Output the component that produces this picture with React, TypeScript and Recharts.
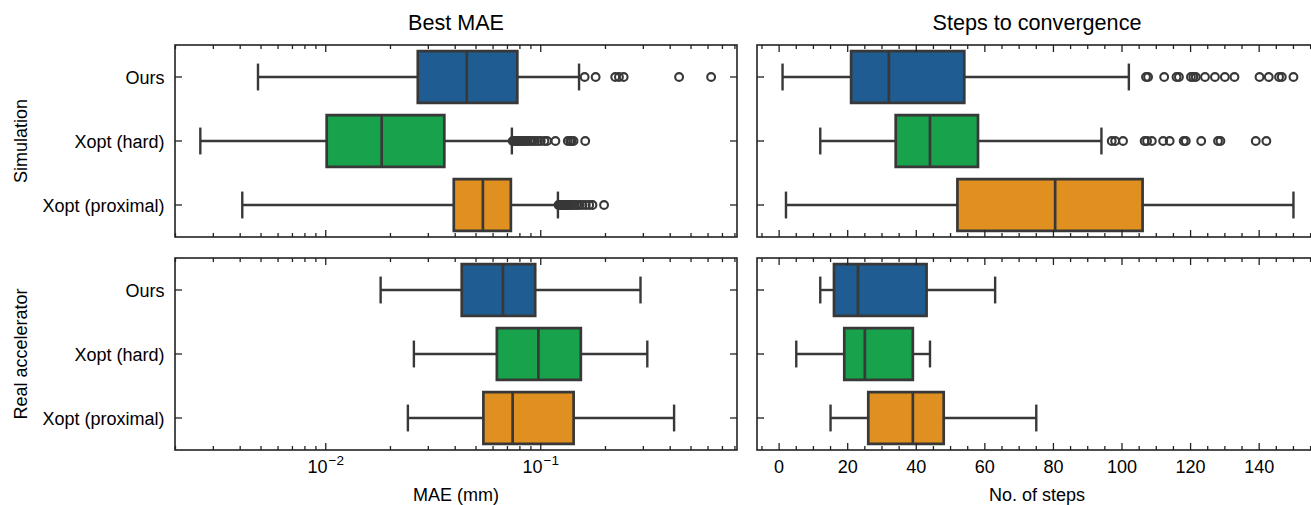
import React from "react";
import { ScatterChart, Scatter, XAxis, YAxis, ReferenceArea, ReferenceLine } from "recharts";

const methods = ["Ours", "Xopt (hard)", "Xopt (proximal)"];
const boxColors = ["#1f5c92", "#17a24b", "#df9020"];

// per method: [low whisker, q1, median, q3, high whisker]
const simMae = [
  [0.00484, 0.0268, 0.0453, 0.0778, 0.1507],
  [0.00261, 0.0101, 0.0182, 0.0356, 0.0734],
  [0.00409, 0.0394, 0.0538, 0.0726, 0.1202],
];
const simMaeFliers = [
  [0.16, 0.18, 0.222, 0.231, 0.243, 0.44, 0.62],
  [0.0741, 0.075, 0.0762, 0.0775, 0.0788, 0.08, 0.0815, 0.083, 0.0848, 0.0868, 0.089, 0.0912, 0.094, 0.097, 0.1, 0.104, 0.107, 0.117, 0.1336, 0.137, 0.139, 0.142, 0.161],
  [0.121, 0.122, 0.123, 0.125, 0.126, 0.128, 0.13, 0.132, 0.134, 0.137, 0.14, 0.143, 0.147, 0.151, 0.156, 0.162, 0.168, 0.174, 0.197],
];
const realMae = [
  [0.018, 0.0429, 0.0667, 0.0942, 0.291],
  [0.0257, 0.0625, 0.0975, 0.1536, 0.313],
  [0.0241, 0.0541, 0.074, 0.1422, 0.417],
];

const simSteps = [
  [1, 21, 32, 54, 102],
  [12, 34, 44, 58, 94],
  [2, 52, 80.5, 106, 150],
];
const simStepsFliers = [
  [107, 107.6, 112.3, 115.9, 116.6, 120.1, 120.8, 121.5, 124.2, 127.1, 130, 132.8, 140.1, 142.8, 145.8, 146.6, 150],
  [97, 98, 100.3, 106.6, 107.3, 108.7, 112, 113.9, 118, 118.6, 123.1, 128, 128.7, 139, 142.1],
  [],
];
const realSteps = [
  [12, 16, 23, 43, 63],
  [5, 19, 25, 39, 44],
  [15, 26, 39, 48, 75],
];

const maeDomain = [0.00199, 0.818];
const maeMajor = [0.01, 0.1];
const maeTicks = [0.002, 0.003, 0.004, 0.005, 0.006, 0.007, 0.008, 0.009, 0.01, 0.02, 0.03, 0.04, 0.05, 0.06, 0.07, 0.08, 0.09, 0.1, 0.2, 0.3, 0.4, 0.5, 0.6, 0.7, 0.8];
const maeLabels = ["\u22122", "\u22121"];

const stepsDomain = [-6.45, 157.45];
const stepsMajor = [0, 20, 40, 60, 80, 100, 120, 140];
const stepsTicks = [-5, 0, 5, 10, 15, 20, 25, 30, 35, 40, 45, 50, 55, 60, 65, 70, 75, 80, 85, 90, 95, 100, 105, 110, 115, 120, 125, 130, 135, 140, 145, 150, 155];

const W = 1330;
const H = 505;
const PW = 562;
const PH = 192;
const EDGE = "#383838";
const AXIS = "#222222";
const FONT = "'Liberation Sans', Arial, Helvetica, sans-serif";
const LW = 2.4;
const BOX_LW = 2.7;

function Panel({ boxes, fliers, domain, log, ticks, majors, top, left, yw, showY, showX, kind }: any) {
  const bottom = top + PH;
  const right = left + PW;
  const flierData = fliers.flatMap((arr: number[], i: number) => arr.map((v) => ({ x: v, y: i })));
  const medianData = boxes.map((b: number[], i: number) => ({ x: b[2], y: i }));

  const XTick = (p: any) => {
    const v = p.payload.value;
    const mi = majors.indexOf(v);
    const len = mi >= 0 ? 7 : 4;
    return (
      <g>
        <line x1={p.x} x2={p.x} y1={bottom} y2={bottom - len} stroke={AXIS} strokeWidth={1.3} />
        <line x1={p.x} x2={p.x} y1={top} y2={top + len} stroke={AXIS} strokeWidth={1.3} />
        {showX && mi >= 0 && (
          kind === "log" ? (
            <text x={p.x} y={bottom + 23} textAnchor="middle" fontSize={18} fontFamily={FONT} fill="#000">
              10<tspan dy={-8} dx={1} fontSize={13.5}>{maeLabels[mi]}</tspan>
            </text>
          ) : (
            <text x={p.x} y={bottom + 23} textAnchor="middle" fontSize={18} fontFamily={FONT} fill="#000">{v}</text>
          )
        )}
      </g>
    );
  };

  const YTick = (p: any) => {
    const i = p.payload.value;
    return (
      <g>
        <line x1={left} x2={left + 7} y1={p.y} y2={p.y} stroke={AXIS} strokeWidth={1.3} />
        <line x1={right} x2={right - 7} y1={p.y} y2={p.y} stroke={AXIS} strokeWidth={1.3} />
        {showY && (
          <text x={left - 10.5} y={p.y + 6.5} textAnchor="end" fontSize={18} fontFamily={FONT} fill="#000">{methods[i]}</text>
        )}
      </g>
    );
  };

  return (
    <div style={{ position: "absolute", left: 0, top: 0 }}>
      <ScatterChart width={W} height={H} margin={{ top, right: W - right, bottom: H - bottom - 1, left: left - yw }}>
        <XAxis type="number" dataKey="x" scale={log ? "log" : "linear"} domain={domain} allowDataOverflow ticks={ticks} interval={0} tick={XTick} tickLine={false} axisLine={false} height={1} tickSize={0} tickMargin={0} />
        <YAxis type="number" dataKey="y" domain={[-0.5, 2.5]} reversed allowDataOverflow ticks={[0, 1, 2]} interval={0} tick={YTick} tickLine={false} axisLine={false} width={yw} tickSize={0} tickMargin={0} />
        {boxes.map((b: number[], i: number) => (
          <ReferenceLine key={"wl" + i} segment={[{ x: b[0], y: i }, { x: b[1], y: i }]} stroke={EDGE} strokeWidth={LW} />
        ))}
        {boxes.map((b: number[], i: number) => (
          <ReferenceLine key={"wh" + i} segment={[{ x: b[3], y: i }, { x: b[4], y: i }]} stroke={EDGE} strokeWidth={LW} />
        ))}
        {boxes.map((b: number[], i: number) => (
          <ReferenceLine key={"cl" + i} segment={[{ x: b[0], y: i - 0.21 }, { x: b[0], y: i + 0.21 }]} stroke={EDGE} strokeWidth={LW} />
        ))}
        {boxes.map((b: number[], i: number) => (
          <ReferenceLine key={"ch" + i} segment={[{ x: b[4], y: i - 0.21 }, { x: b[4], y: i + 0.21 }]} stroke={EDGE} strokeWidth={LW} />
        ))}
        {boxes.map((b: number[], i: number) => (
          <ReferenceArea key={"bx" + i} x1={b[1]} x2={b[3]} y1={i - 0.405} y2={i + 0.405} fill={boxColors[i]} fillOpacity={1} stroke={EDGE} strokeWidth={BOX_LW} />
        ))}
        <Scatter
          data={medianData}
          isAnimationActive={false}
          shape={(p: any) => <line x1={p.cx} x2={p.cx} y1={p.cy - 25.9} y2={p.cy + 25.9} stroke={EDGE} strokeWidth={BOX_LW} />}
        />
        <Scatter
          data={flierData}
          isAnimationActive={false}
          shape={(p: any) => <circle cx={p.cx} cy={p.cy} r={3.9} fill="none" stroke={EDGE} strokeWidth={2.1} />}
        />
      </ScatterChart>
    </div>
  );
}

export default function App() {
  const frames = [
    [175, 45], [757, 45], [175, 258], [757, 258],
  ];
  return (
    <div style={{ position: "absolute", left: 0, top: 0, width: 1311, height: 505, overflow: "hidden", background: "#fff" }}>
      <Panel boxes={simMae} fliers={simMaeFliers} domain={maeDomain} log ticks={maeTicks} majors={maeMajor} top={45} left={175} yw={175} showY showX={false} kind="log" />
      <Panel boxes={realMae} fliers={[[], [], []]} domain={maeDomain} log ticks={maeTicks} majors={maeMajor} top={258} left={175} yw={175} showY showX kind="log" />
      <Panel boxes={simSteps} fliers={simStepsFliers} domain={stepsDomain} log={false} ticks={stepsTicks} majors={stepsMajor} top={45} left={757} yw={12} showY={false} showX={false} kind="lin" />
      <Panel boxes={realSteps} fliers={[[], [], []]} domain={stepsDomain} log={false} ticks={stepsTicks} majors={stepsMajor} top={258} left={757} yw={12} showY={false} showX kind="lin" />
      <svg width={W} height={H} style={{ position: "absolute", left: 0, top: 0, pointerEvents: "none" }}>
        {frames.map(([x, y], i) => (
          <rect key={i} x={x} y={y} width={PW} height={PH} fill="none" stroke={AXIS} strokeWidth={1.6} />
        ))}
        <text x={456} y={30} textAnchor="middle" fontSize={21.6} fontFamily={FONT}>Best MAE</text>
        <text x={1037} y={30} textAnchor="middle" fontSize={21.6} fontFamily={FONT}>Steps to convergence</text>
        <text x={456} y={501} textAnchor="middle" fontSize={18} fontFamily={FONT}>MAE (mm)</text>
        <text x={1037} y={501} textAnchor="middle" fontSize={18} fontFamily={FONT}>No. of steps</text>
        <text x={26.5} y={141} textAnchor="middle" fontSize={18} fontFamily={FONT} transform="rotate(-90 26.5 141)">Simulation</text>
        <text x={26.5} y={354} textAnchor="middle" fontSize={18} fontFamily={FONT} transform="rotate(-90 26.5 354)">Real accelerator</text>
      </svg>
    </div>
  );
}
